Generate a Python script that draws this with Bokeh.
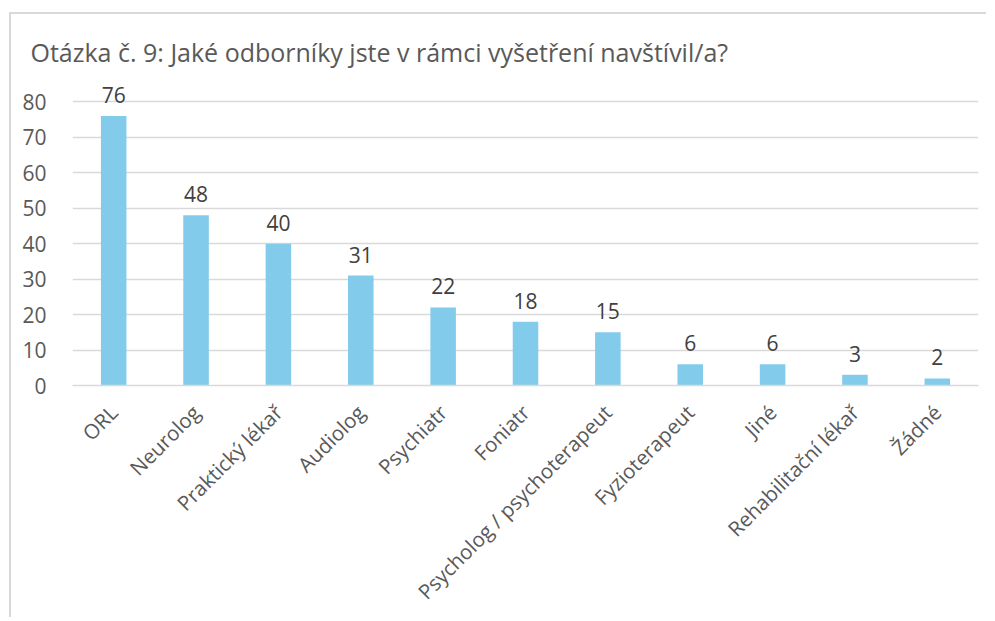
from bokeh.plotting import figure
from bokeh.models import ColumnDataSource, FixedTicker, FactorRange, Range1d
from bokeh.core.properties import value
from bokeh.embed import file_html
from bokeh.resources import INLINE
import math

categories = ["ORL", "Neurolog", "Praktický lékař", "Audiolog", "Psychiatr", "Foniatr",
              "Psycholog / psychoterapeut", "Fyzioterapeut", "Jiné", "Rehabilitační lékař", "Žádné"]
counts = [76, 48, 40, 31, 22, 18, 15, 6, 6, 3, 2]
y_ticks = [0, 10, 20, 30, 40, 50, 60, 70, 80]
title_text = "Otázka č. 9: Jaké odborníky jste v rámci vyšetření navštívil/a?"

src = ColumnDataSource(dict(cat=categories, val=counts, lbl=[str(v) for v in counts]))

FONT = "Open Sans"
p = figure(x_range=FactorRange(*categories, range_padding=0), y_range=Range1d(0, 86),
           frame_width=906, frame_height=305, output_backend="svg", toolbar_location=None,
           min_border_left=61, min_border_right=8, min_border_top=66, min_border_bottom=222,
           styles={"border-top": "2px solid #d9d9d9", "border-left": "2px solid #d9d9d9",
                   "margin-top": "12px", "margin-left": "9px"})
p.title.text = title_text
p.title.text_font = FONT
p.title.text_font_size = "25px"
p.title.text_font_style = "normal"
p.title.text_color = "#595959"
p.title.align = "left"
p.title.offset = -42
p.title.standoff = 23

p.vbar(x="cat", top="val", width=0.31, source=src, color="#83CBEB", line_color=None)
p.text(x="cat", y="val", text="lbl", source=src, text_align="center", text_baseline="bottom",
       y_offset=-13, text_font=value(FONT), text_font_size="21px", text_color="#404040")

p.outline_line_color = None
p.xgrid.grid_line_color = None
p.ygrid.grid_line_color = "#d9d9d9"
p.ygrid.grid_line_width = 1.5
p.yaxis.ticker = FixedTicker(ticks=y_ticks)
p.yaxis.axis_line_color = None
p.yaxis.major_tick_line_color = None
p.yaxis.minor_tick_line_color = None
p.yaxis.major_label_text_font = FONT
p.yaxis.major_label_text_font_size = "21px"
p.yaxis.major_label_text_color = "#595959"
p.yaxis.major_label_standoff = 20

p.xaxis.axis_line_color = "#d9d9d9"
p.xaxis.axis_line_width = 1.5
p.xaxis.major_tick_line_color = None
p.xaxis.minor_tick_line_color = None
p.xaxis.major_label_orientation = math.pi / 4
p.xaxis.major_label_text_font = FONT
p.xaxis.major_label_text_font_size = "20.5px"
p.xaxis.major_label_text_color = "#595959"
p.xaxis.major_label_standoff = 17
p.background_fill_color = "white"
p.border_fill_color = "white"

open("out.html", "w").write(file_html(p, INLINE))
